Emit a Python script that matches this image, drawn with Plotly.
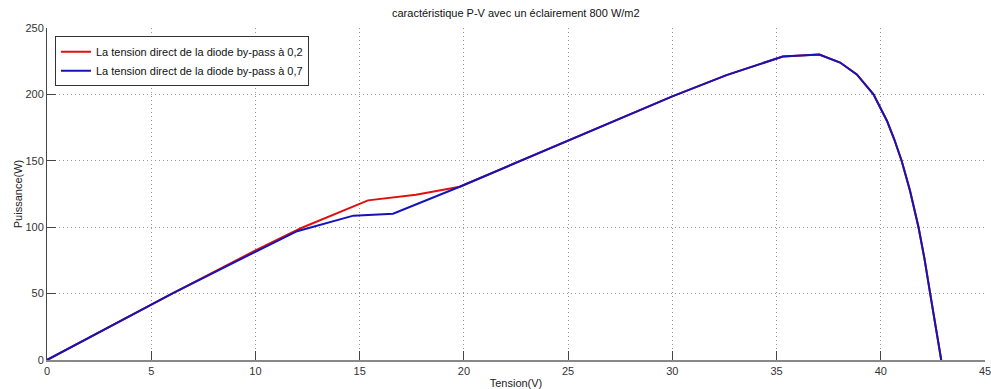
import plotly.graph_objects as go

# P-V characteristic, irradiance 800 W/m2, two by-pass diode forward voltages
v_diode_02 = [0, 6, 10, 12.2, 15.4, 17.7, 19.8, 25, 30, 32.6, 35.3, 37.05, 38.05, 38.85,
              39.65, 40.3, 40.65, 41.0, 41.4, 41.81, 42.1, 42.37, 42.65, 42.9]
p_diode_02 = [0, 50, 82.5, 99.4, 120.2, 124.5, 130.5, 165, 198.5, 214.5, 228.5, 230, 224, 215,
              200, 180, 166, 150, 127.6, 100, 76, 50, 24, 0]

v_diode_07 = [0, 6, 10, 12.0, 14.7, 16.6, 19.8, 25, 30, 32.6, 35.3, 37.05, 38.05, 38.85,
              39.65, 40.3, 40.65, 41.0, 41.4, 41.81, 42.1, 42.37, 42.65, 42.9]
p_diode_07 = [0, 50, 81.5, 97, 108.7, 110.2, 130.5, 165, 198.5, 214.5, 228.5, 230, 224, 215,
              200, 180, 166, 150, 127.6, 100, 76, 50, 24, 0]

series_names = ["La tension direct de la diode by-pass à 0,2",
                "La tension direct de la diode by-pass à 0,7"]

x_ticks = [0, 5, 10, 15, 20, 25, 30, 35, 40, 45]
y_ticks = [0, 50, 100, 150, 200, 250]

fig = go.Figure()
fig.add_trace(go.Scatter(x=v_diode_02, y=p_diode_02, mode="lines", name=series_names[0],
                         line=dict(color="#E01010", width=2)))
fig.add_trace(go.Scatter(x=v_diode_07, y=p_diode_07, mode="lines", name=series_names[1],
                         line=dict(color="#1414B8", width=2)))

font_family = "Liberation Sans, Arial, sans-serif"
fig.update_layout(
    width=991, height=389,
    margin=dict(l=47, r=6, t=28, b=29),
    paper_bgcolor="white", plot_bgcolor="white",
    font=dict(family=font_family, size=11, color="#222"),
    title=dict(text="caractéristique P-V avec un éclairement 800 W/m2",
               x=0.5205, xanchor="center", y=0.965, yanchor="middle",
               font=dict(size=11, color="#111")),
    legend=dict(x=0.0085, y=0.975, xanchor="left", yanchor="top",
                bgcolor="white", bordercolor="#333", borderwidth=1,
                font=dict(size=11, color="#111"), tracegroupgap=0,
                itemwidth=30),
    showlegend=True,
)
fig.update_xaxes(
    range=[0, 45], tickvals=x_ticks, ticks="inside", ticklen=9, tickcolor="#444",
    showline=True, linecolor="#888", linewidth=2,
    showgrid=True, gridcolor="#999", griddash="1px,3px", gridwidth=1,
    zeroline=False, tickfont=dict(size=11, color="#333"),
    ticklabeloverflow="allow", automargin=False,
    title=dict(text="Tension(V)", standoff=4, font=dict(size=11, color="#222")),
)
fig.update_yaxes(
    range=[0, 250], tickvals=y_ticks, ticks="inside", ticklen=9, tickcolor="#444",
    showline=True, linecolor="#444", linewidth=1,
    showgrid=True, gridcolor="#999", griddash="1px,3px", gridwidth=1,
    zeroline=False, tickfont=dict(size=11, color="#333"),
    ticklabeloverflow="allow", automargin=False,
    title=dict(text="Puissance(W)", standoff=0, font=dict(size=11, color="#222")),
)

fig.write_html("out.html")
